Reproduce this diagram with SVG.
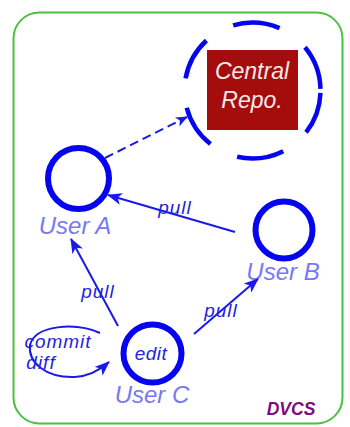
<svg xmlns="http://www.w3.org/2000/svg" width="350" height="427" viewBox="0 0 350 427">
<defs>
<marker id="ah" markerUnits="userSpaceOnUse" markerWidth="15" markerHeight="12" refX="14" refY="6" orient="auto">
<path d="M0,0 L15,6 L0,12 L4,6 Z" fill="#1a1ae8"/>
</marker>
<marker id="ahs" markerUnits="userSpaceOnUse" markerWidth="12" markerHeight="10" refX="11" refY="5" orient="auto">
<path d="M0,0 L12,5 L0,10 L3,5 Z" fill="#1a1ae8"/>
</marker>
</defs>
<style>
.node{fill:none;stroke:#0505f0;stroke-width:6}
.user{font-family:"Liberation Sans",Arial,sans-serif;font-style:italic;font-size:24px;fill:#7878f4;text-anchor:middle}
.lbl{font-family:"Liberation Sans",Arial,sans-serif;font-style:italic;font-size:19px;fill:#2424dc;text-anchor:middle;letter-spacing:1px}
.conn{fill:none;stroke:#1a1ae8;stroke-width:2}
</style>
<rect x="13.5" y="12.5" width="329" height="411" rx="26" ry="26" fill="#fff" stroke="#4cc040" stroke-width="2"/>
<g id="central">
<circle cx="252.5" cy="90.5" r="68" fill="none" stroke="#0505f0" stroke-width="4.5" stroke-dasharray="0 2.37 42.72 29.67 47.47 29.67 43.91 29.67 43.91 30.86 47.47 32.04 45.1 2.37"/>
<rect x="207" y="50" width="91" height="80" fill="#a50c0c"/>
<text x="252" y="79" font-family="'Liberation Sans',Arial,sans-serif" font-style="italic" font-size="23" fill="#f4eaea" text-anchor="middle">Central</text>
<text x="252" y="108" font-family="'Liberation Sans',Arial,sans-serif" font-style="italic" font-size="23" fill="#f4eaea" text-anchor="middle">Repo.</text>
</g>
<g id="userA">
<circle class="node" cx="78.5" cy="178.5" r="30.5"/>
<text class="user" x="75" y="234">User A</text>
</g>
<g id="userB">
<circle class="node" cx="284" cy="230" r="28.5"/>
<text class="user" x="283" y="280">User B</text>
</g>
<g id="userC">
<circle class="node" cx="152.5" cy="353.5" r="29" stroke-width="6.5"/>
<text x="151" y="360" font-family="'Liberation Sans',Arial,sans-serif" font-style="italic" font-size="19" fill="#2424dc" text-anchor="middle" letter-spacing="0.5">edit</text>
<text class="user" x="152" y="403">User C</text>
</g>
<g id="connectors">
<line class="conn" x1="105" y1="158" x2="187" y2="117" stroke-dasharray="9 5" marker-end="url(#ahs)"/>
<line class="conn" x1="235" y1="232" x2="108" y2="195" marker-end="url(#ah)"/>
<line class="conn" x1="118" y1="326" x2="71" y2="239" marker-end="url(#ah)"/>
<line class="conn" x1="194" y1="334" x2="258" y2="279" marker-end="url(#ah)"/>
<path class="conn" d="M100,333 C75,322 35,325 30,345 C28,362 45,378 75,377 C90,376 100,370 109,362" marker-end="url(#ah)"/>
<text class="lbl" x="175" y="214">pull</text>
<text class="lbl" x="98" y="298">pull</text>
<text class="lbl" x="221" y="317">pull</text>
<text class="lbl" x="58" y="348">commit</text>
<text class="lbl" x="41" y="369">diff</text>
</g>
<text x="291" y="415" font-family="'Liberation Sans',Arial,sans-serif" font-style="italic" font-weight="bold" font-size="17.5" fill="#800a80" text-anchor="middle">DVCS</text>
</svg>
